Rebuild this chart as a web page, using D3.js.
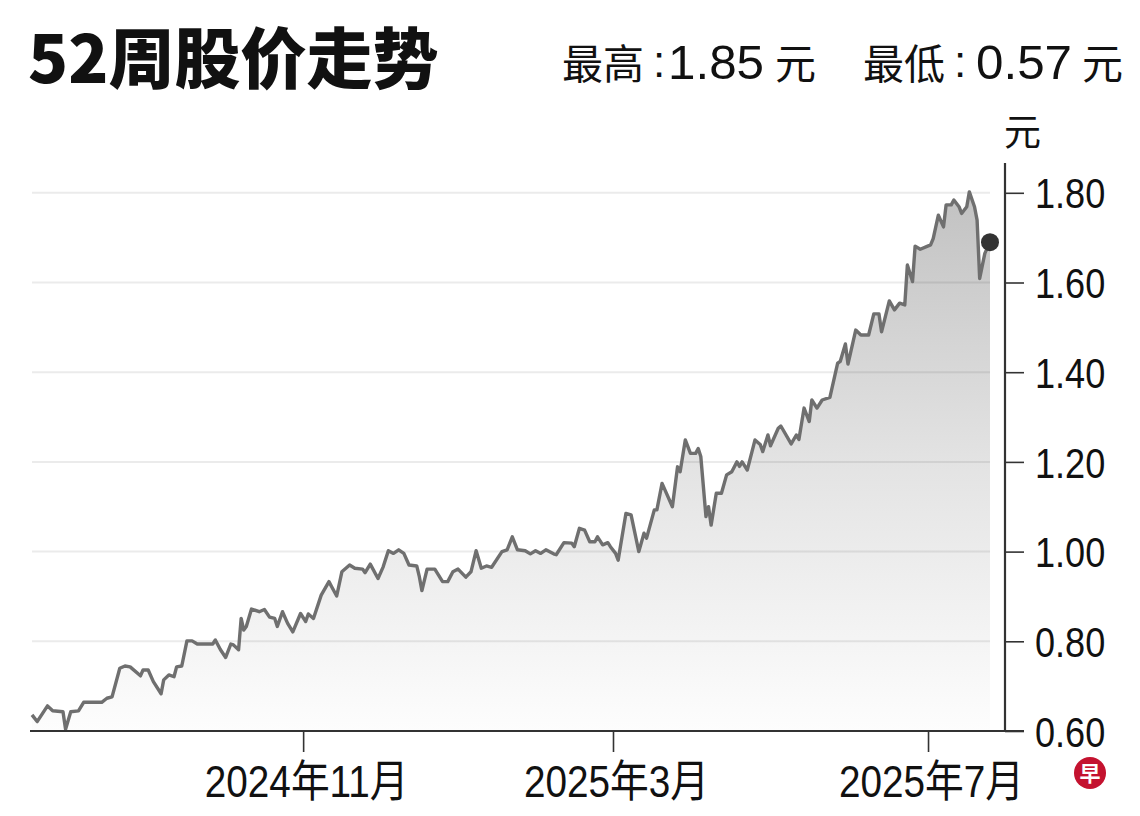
<!DOCTYPE html>
<html lang="zh">
<head>
    <meta charset="UTF-8">
    <title>52周股价走势</title>
    <script src="https://d3js.org/d3.v7.min.js"></script>
    <style>
        html, body { margin: 0; padding: 0; background: #fff; }
        .cjk { font-family: "Noto Sans CJK SC", sans-serif; }
        .num { font-family: "Liberation Sans", Arial, sans-serif; }
        .axis text { font-family: "Liberation Sans", "Noto Sans CJK SC", sans-serif; fill: #111; }
        .axis line { stroke: #333; stroke-width: 1.6px; }
        .axis .baseline { stroke: #333; stroke-width: 2.2px; }
    </style>
</head>
<body>
    <svg id="chart" width="1140" height="816"></svg>

    <script>
        // 日期与收盘价
        const dates = [
            "2024-07-19","2024-07-21","2024-07-25","2024-07-27","2024-07-31","2024-08-01","2024-08-03","2024-08-06",
            "2024-08-08","2024-08-15","2024-08-17","2024-08-19","2024-08-22","2024-08-24","2024-08-26","2024-08-30",
            "2024-08-31","2024-09-02","2024-09-04","2024-09-07","2024-09-08","2024-09-10","2024-09-12","2024-09-13",
            "2024-09-15","2024-09-17","2024-09-19","2024-09-21","2024-09-27","2024-09-28","2024-09-30","2024-10-02",
            "2024-10-04","2024-10-05","2024-10-07","2024-10-08","2024-10-09","2024-10-10","2024-10-12","2024-10-15",
            "2024-10-17","2024-10-19","2024-10-21","2024-10-22","2024-10-24","2024-10-26","2024-10-28","2024-10-31",
            "2024-11-02","2024-11-03","2024-11-05","2024-11-08","2024-11-11","2024-11-12","2024-11-14","2024-11-16",
            "2024-11-19","2024-11-21","2024-11-24","2024-11-25","2024-11-27","2024-11-30","2024-12-02","2024-12-04",
            "2024-12-06","2024-12-08","2024-12-10","2024-12-12","2024-12-15","2024-12-16","2024-12-17","2024-12-19",
            "2024-12-22","2024-12-25","2024-12-27","2024-12-29","2024-12-31","2025-01-03","2025-01-05","2025-01-07",
            "2025-01-09","2025-01-11","2025-01-13","2025-01-17","2025-01-19","2025-01-21","2025-01-23","2025-01-26",
            "2025-01-28","2025-01-30","2025-02-01","2025-02-03","2025-02-06","2025-02-07","2025-02-10","2025-02-13",
            "2025-02-14","2025-02-16","2025-02-18","2025-02-20","2025-02-22","2025-02-23","2025-02-25","2025-02-27",
            "2025-02-28","2025-03-02","2025-03-03","2025-03-06","2025-03-08","2025-03-11","2025-03-13","2025-03-14",
            "2025-03-17","2025-03-18","2025-03-20","2025-03-24","2025-03-26","2025-03-27","2025-03-29","2025-03-31",
            "2025-04-02","2025-04-03","2025-04-04","2025-04-06","2025-04-07","2025-04-08","2025-04-10","2025-04-12",
            "2025-04-14","2025-04-16","2025-04-18","2025-04-19","2025-04-20","2025-04-22","2025-04-25","2025-04-27",
            "2025-04-28","2025-04-30","2025-05-01","2025-05-04","2025-05-05","2025-05-09","2025-05-11","2025-05-12",
            "2025-05-14","2025-05-16","2025-05-17","2025-05-19","2025-05-21","2025-05-24","2025-05-27","2025-05-28",
            "2025-05-30","2025-05-31","2025-06-03","2025-06-05","2025-06-08","2025-06-10","2025-06-12","2025-06-13",
            "2025-06-16","2025-06-18","2025-06-20","2025-06-22","2025-06-23","2025-06-25","2025-06-26","2025-06-28",
            "2025-07-02","2025-07-03","2025-07-05","2025-07-07","2025-07-08","2025-07-10","2025-07-11","2025-07-13",
            "2025-07-14","2025-07-16","2025-07-17","2025-07-19","2025-07-20","2025-07-21","2025-07-23","2025-07-25"
        ];
        const prices = [
            0.636,0.621,0.656,0.645,0.643,0.604,0.643,0.645,
            0.664,0.664,0.673,0.676,0.740,0.745,0.743,0.723,
            0.736,0.736,0.710,0.683,0.714,0.725,0.721,0.743,
            0.745,0.801,0.801,0.794,0.794,0.803,0.781,0.764,
            0.794,0.792,0.781,0.851,0.825,0.833,0.872,0.866,
            0.871,0.854,0.851,0.833,0.866,0.840,0.821,0.862,
            0.844,0.861,0.851,0.903,0.933,0.922,0.901,0.955,
            0.970,0.963,0.961,0.953,0.972,0.940,0.966,1.002,
            0.996,1.004,0.996,0.970,0.968,0.944,0.913,0.961,
            0.961,0.933,0.933,0.955,0.961,0.943,0.955,1.002,
            0.963,0.968,0.965,1.000,1.004,1.033,1.004,1.002,
            0.995,1.002,0.996,1.004,0.995,0.993,1.020,1.019,
            1.011,1.052,1.048,1.022,1.022,1.033,1.015,1.020,
            1.011,0.996,0.981,1.085,1.082,1.000,1.041,1.030,
            1.093,1.093,1.152,1.100,1.189,1.178,1.249,1.219,
            1.219,1.230,1.212,1.078,1.100,1.059,1.130,1.130,
            1.171,1.178,1.200,1.190,1.200,1.182,1.249,1.239,
            1.223,1.260,1.236,1.275,1.280,1.240,1.260,1.250,
            1.320,1.290,1.338,1.320,1.338,1.344,1.420,1.424,
            1.463,1.418,1.494,1.483,1.483,1.530,1.530,1.490,
            1.559,1.539,1.554,1.550,1.639,1.602,1.681,1.674,
            1.684,1.698,1.750,1.724,1.773,1.773,1.784,1.769,
            1.754,1.769,1.802,1.769,1.739,1.609,1.665,1.690
        ];

        // 坐标轴刻度
        const yTicks = [0.6, 0.8, 1.0, 1.2, 1.4, 1.6, 1.8];
        const xTickDates = ["2024-11-01", "2025-03-01", "2025-07-01"];
        const xTickLabels = ["2024年11月", "2025年3月", "2025年7月"];

        const title = "52周股价走势";
        const highLabel = ["最高", "1.85"];
        const lowLabel = ["最低", "0.57"];
        const unitText = "元";

        const parse = d3.timeParse("%Y-%m-%d");
        const data = dates.map((d, i) => ({ date: parse(d), value: prices[i] }));

        const svg = d3.select("#chart");

        // 比例尺
        const x = d3.scaleTime()
            .domain([parse("2024-07-19"), parse("2025-07-25")])
            .range([32, 990]);
        const y = d3.scaleLinear()
            .domain([0.6, 1.8])
            .range([731, 192.8]);

        // 渐变填充
        const defs = svg.append("defs");
        const grad = defs.append("linearGradient")
            .attr("id", "areaFill")
            .attr("gradientUnits", "userSpaceOnUse")
            .attr("x1", 0).attr("x2", 0)
            .attr("y1", y(1.8)).attr("y2", y(0.6));
        grad.append("stop").attr("offset", "0%").attr("stop-color", "#c2c2c2");
        grad.append("stop").attr("offset", "50%").attr("stop-color", "#e3e3e3");
        grad.append("stop").attr("offset", "100%").attr("stop-color", "#fdfdfd");

        const g = svg.append("g");

        // 面积
        g.append("path")
            .datum(data)
            .attr("fill", "url(#areaFill)")
            .attr("d", d3.area()
                .x(d => x(d.date))
                .y0(y(0.6))
                .y1(d => y(d.value)));

        // 网格线
        g.selectAll(".grid")
            .data(yTicks.slice(1))
            .enter().append("line")
            .attr("class", "grid")
            .attr("x1", 32).attr("x2", 990)
            .attr("y1", d => y(d)).attr("y2", d => y(d))
            .attr("stroke", "#000")
            .attr("stroke-opacity", 0.08)
            .attr("stroke-width", 2);

        // 价格线
        g.append("path")
            .datum(data)
            .attr("fill", "none")
            .attr("stroke", "#6f6f6f")
            .attr("stroke-width", 3.4)
            .attr("stroke-linejoin", "round")
            .attr("d", d3.line()
                .x(d => x(d.date))
                .y(d => y(d.value)));

        // 最新价圆点
        const last = data[data.length - 1];
        g.append("circle")
            .attr("cx", x(last.date))
            .attr("cy", y(last.value))
            .attr("r", 9)
            .attr("fill", "#333");

        // X轴
        const xAxis = svg.append("g")
            .attr("class", "axis")
            .attr("transform", `translate(0, ${y(0.6)})`)
            .call(d3.axisBottom(x)
                .tickValues(xTickDates.map(parse))
                .tickFormat((d, i) => xTickLabels[i])
                .tickSize(21));
        xAxis.select(".domain").remove();
        xAxis.selectAll(".tick text")
            .attr("font-size", 44)
            .attr("y", 0)
            .attr("dy", 0)
            .attr("transform", "translate(3, 66) scale(0.88, 1)");
        xAxis.append("line")
            .attr("class", "baseline")
            .attr("x1", 30).attr("x2", 1024)
            .attr("y1", 0).attr("y2", 0);

        // Y轴
        const yAxis = svg.append("g")
            .attr("class", "axis")
            .attr("transform", "translate(1005, 0)")
            .call(d3.axisRight(y)
                .tickValues(yTicks)
                .tickFormat(d3.format(".2f"))
                .tickSize(19));
        yAxis.select(".domain").remove();
        yAxis.selectAll(".tick text")
            .attr("font-size", 42)
            .attr("x", 0)
            .attr("dy", "0.36em")
            .attr("transform", "translate(30, 0) scale(0.86, 1)");
        yAxis.append("line")
            .attr("class", "baseline")
            .attr("x1", 0).attr("x2", 0)
            .attr("y1", 163).attr("y2", y(0.6));

        // 标题
        svg.append("text")
            .attr("class", "cjk")
            .attr("x", 28).attr("y", 83)
            .attr("font-size", 66)
            .attr("font-weight", 900)
            .attr("fill", "#111")
            .text(title);

        // 最高 / 最低
        function priceNote(parts, x0, xColon, xNum, xUnit) {
            const t = svg.append("g").attr("fill", "#111");
            t.append("text").attr("class", "cjk")
                .attr("x", x0).attr("y", 79).attr("font-size", 41).text(parts[0]);
            t.append("text").attr("class", "num")
                .attr("x", xColon).attr("y", 77).attr("font-size", 44)
                .attr("text-anchor", "middle").text(":");
            t.append("text").attr("class", "num")
                .attr("x", xNum).attr("y", 79).attr("font-size", 48)
                .attr("textLength", 96).attr("lengthAdjust", "spacingAndGlyphs")
                .text(parts[1]);
            t.append("text").attr("class", "cjk")
                .attr("x", xUnit).attr("y", 79).attr("font-size", 41).text(unitText);
        }
        priceNote(highLabel, 562, 659, 668, 775);
        priceNote(lowLabel, 863, 960, 976, 1082);

        // 单位
        svg.append("text")
            .attr("class", "cjk")
            .attr("x", 1004).attr("y", 146)
            .attr("font-size", 37)
            .attr("fill", "#111")
            .text(unitText);

        // 标志
        const logo = svg.append("g").attr("transform", "translate(1090, 773)");
        logo.append("circle").attr("r", 16).attr("fill", "#c4122f");
        logo.append("text")
            .attr("class", "cjk")
            .attr("text-anchor", "middle")
            .attr("dy", "0.36em")
            .attr("font-size", 21)
            .attr("font-weight", 700)
            .attr("fill", "#fff")
            .text("早");
    </script>
</body>
</html>
